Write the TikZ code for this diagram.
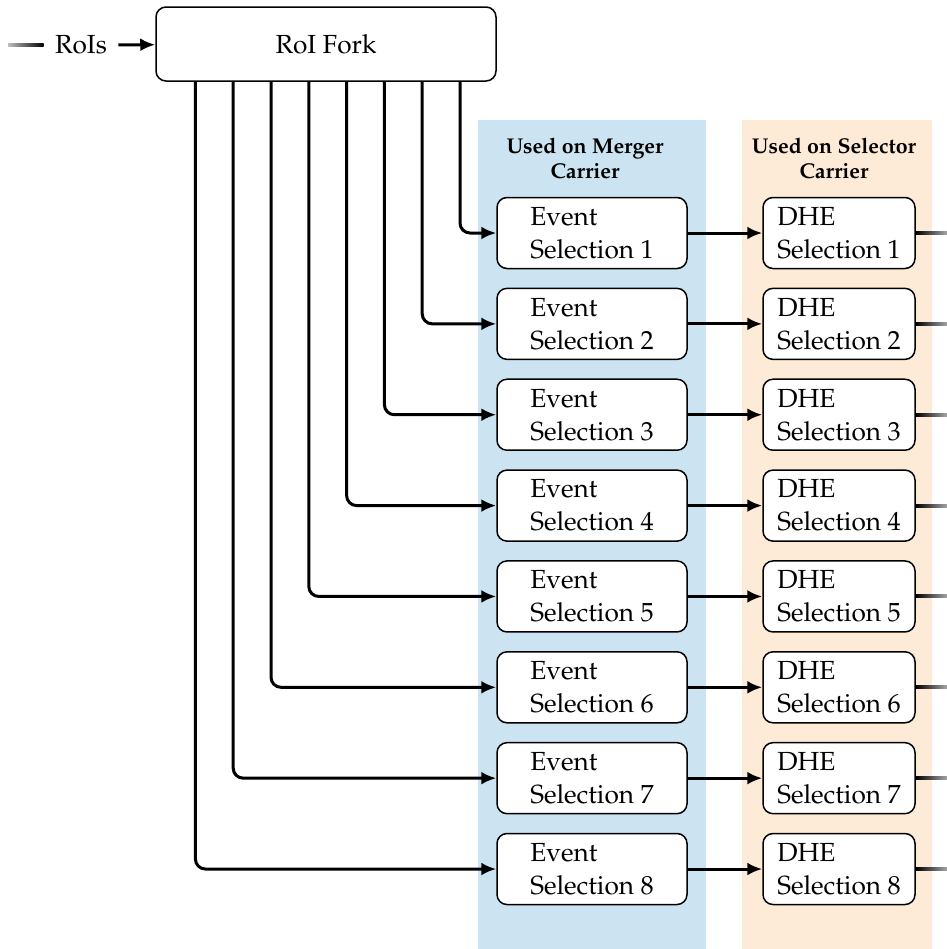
\documentclass[tikz,border=0pt]{standalone}
\usepackage[T1]{fontenc}
\usepackage{mathpazo}
\usetikzlibrary{arrows.meta}
\definecolor{mergerbg}{RGB}{204,228,241}
\definecolor{selectorbg}{RGB}{253,235,215}
\tikzset{
  unitbox/.style={draw=black, line width=0.75pt, rounded corners=5pt, fill=white,
    align=left, inner sep=0pt, minimum height=35.5pt,
    font=\fontsize{13.1}{16.5}\selectfont},
  evbox/.style={unitbox, minimum width=95pt},
  dhebox/.style={unitbox, minimum width=76pt},
  link/.style={line width=1.5pt, rounded corners=5pt,
    -{Latex[length=7.5pt,width=6.5pt]}},
  header/.style={align=center, font=\fontsize{10.7}{12.5}\selectfont\bfseries},
}
\begin{document}
\begin{tikzpicture}[x=0.5pt, y=-0.5pt]
\useasboundingbox (0,0) rectangle (947,949);

% carrier bands
\fill[mergerbg] (478,120) rectangle (706,949);
\fill[selectorbg] (742,120) rectangle (932,949);
\node[header] (hmerger) at (585,158) {Used on Merger\\Carrier};
\node[header] (hselector) at (834,158) {Used on Selector\\Carrier};

% input and fork
\node[draw=black, line width=0.75pt, rounded corners=5pt, minimum width=170pt,
  minimum height=37pt, font=\fontsize{13.1}{16.5}\selectfont] (fork) at (326,44) {RoI Fork};
\node[inner sep=5.5pt, font=\fontsize{13.1}{16.5}\selectfont] (rois) at (81,45) {RoIs};
\coordinate (in) at (8,45);
\shade[left color=black!25, right color=black] ([yshift=-0.75pt]in) rectangle ([yshift=0.75pt]rois.west);
\draw[link] (rois) -- (fork);

% selection chains
\foreach \i in {1,...,8}{
  \pgfmathsetmacro{\ypos}{233+90.86*(\i-1)}
  \pgfmathsetmacro{\xtap}{460-37.8*(\i-1)}
  \node[evbox] (es\i) at (592,\ypos) {Event\\Selection \i};
  \node[dhebox] (dhe\i) at (839,\ypos) {DHE\\Selection \i};
  \coordinate (tap\i) at (\xtap,0);
  \coordinate (out\i) at (947,\ypos);
  \draw[link] (fork.south -| tap\i) |- (es\i.west);
  \draw[link] (es\i) -- (dhe\i);
  \shade[left color=black, right color=black!35] ([yshift=0.75pt]dhe\i.east) rectangle ([yshift=-0.75pt]out\i);
}
\end{tikzpicture}
\end{document}
